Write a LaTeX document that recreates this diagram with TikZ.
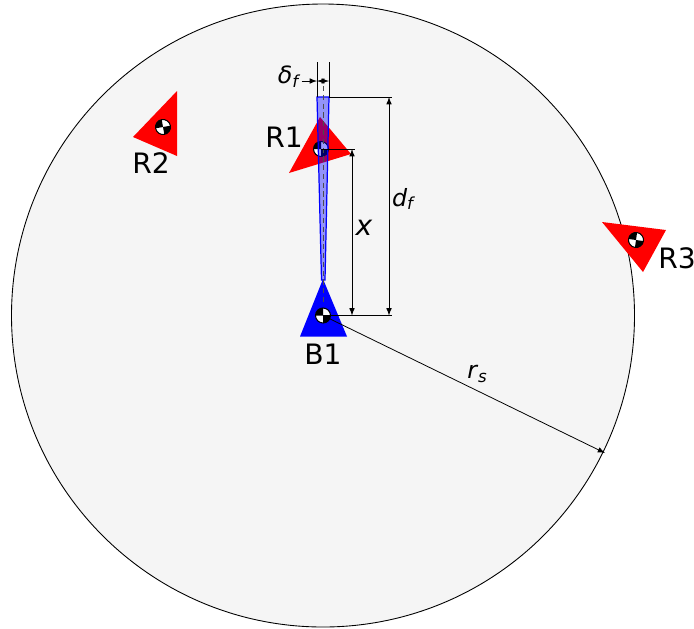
\documentclass[tikz,border=0pt]{standalone}
\usepackage{fontspec}
\setmainfont{DejaVu Sans}
\definecolor{fieldgray}{HTML}{F5F5F5}
\newcommand{\sizeA}{\fontsize{16}{18}\selectfont}
\newcommand{\sizeB}{\fontsize{13.5}{15}\selectfont}
\begin{document}
\begin{tikzpicture}[
    x=0.2mm, y=-0.2mm, >=latex,
    robot/.style={draw=none, fill=red},
    base/.style={draw=none, fill=blue},
    lab/.style={font=\sizeA, inner sep=0pt},
    dimlab/.style={font=\sizeB, inner sep=0pt},
    dimline/.style={line width=0.45pt},
    pics/cgmark/.style={code={
      \fill[white] (0,0) circle (7.5);
      \fill[black] (0,0) -- (180:7.5) arc (180:270:7.5) -- cycle;
      \fill[black] (0,0) -- (0:7.5) arc (0:90:7.5) -- cycle;
      \draw[line width=0.6pt] (0,0) circle (7.5);
    }}
  ]
  \useasboundingbox (0,0) rectangle (694,628);
  % sensing field
  \coordinate (B1c) at (323,315.5);
  \coordinate (R1c) at (321,149);
  \coordinate (R2c) at (163,127);
  \coordinate (R3c) at (636,240);
  \coordinate (rim) at (605,453);
  \draw[fill=fieldgray, line width=0.5pt] (B1c) circle (311.5);
  % triangles
  \fill[robot] (177,91) -- (133,137) -- (177,156) -- cycle;
  \fill[robot] (602,222) -- (666,230) -- (643,272) -- cycle;
  \fill[robot] (320,117) -- (289,173) -- (351,154) -- cycle;
  \fill[base] (323,279) -- (300,336.5) -- (347,336.5) -- cycle;
  \foreach \c/\r in {B1c/0,R1c/0,R2c/10,R3c/-8} {
    \pic[rotate=\r] at (\c) {cgmark};
  }
  % wedge
  \coordinate (wl) at (317,97);
  \coordinate (wr) at (329,97);
  \draw[blue, fill=blue, fill opacity=0.4, line width=0.7pt] (wl) -- (wr) -- (325,280) -- (321.5,280) -- cycle;
  \draw[black!70, densely dashed, line width=0.5pt] (323,86) -- (323,302);
  % dimensions
  \coordinate (dl) at (317,62);
  \coordinate (dr) at (329,62);
  \coordinate (dfa) at (392,97);
  \coordinate (dfb) at (392,315.5);
  \coordinate (xa) at (355,149);
  \coordinate (xb) at (355,315.5);
  \draw[dimline] (dl) -- (wl);
  \draw[dimline] (dr) -- (wr);
  \draw[dimline] (wr) -- (dfa);
  \draw[dimline] (B1c) -- (dfb);
  \draw[dimline] (R1c) -- (xa);
  \draw[dimline, <->] (389,97) -- (389,315.5);
  \draw[dimline, <->] (352,149) -- (352,315.5);
  \draw[dimline, <->] (317,81) -- (329,81);
  \draw[dimline, ->] (B1c) -- (rim);
  % labels
  \node[dimlab] (dflab) at (289.5,77) {\textit{δ}\textsubscript{\textit{f}}};
  \draw[dimline, ->] (dflab.east |- 0,81) -- (317,81);
  \node[lab] (R1) at (284,137.5) {R1};
  \node[lab] (R2) at (151,163.5) {R2};
  \node[lab] (R3) at (677,258.5) {R3};
  \node[lab] (B1) at (323,354.5) {B1};
  \node[lab] (xlab) at (364,228) {\textit{x}};
  \node[dimlab] (dlab) at (404,199) {\textit{d}\textsubscript{\textit{f}}};
  \node[dimlab] (rlab) at (477.5,374) {\textit{r}\textsubscript{\textit{s}}};
\end{tikzpicture}
\end{document}
